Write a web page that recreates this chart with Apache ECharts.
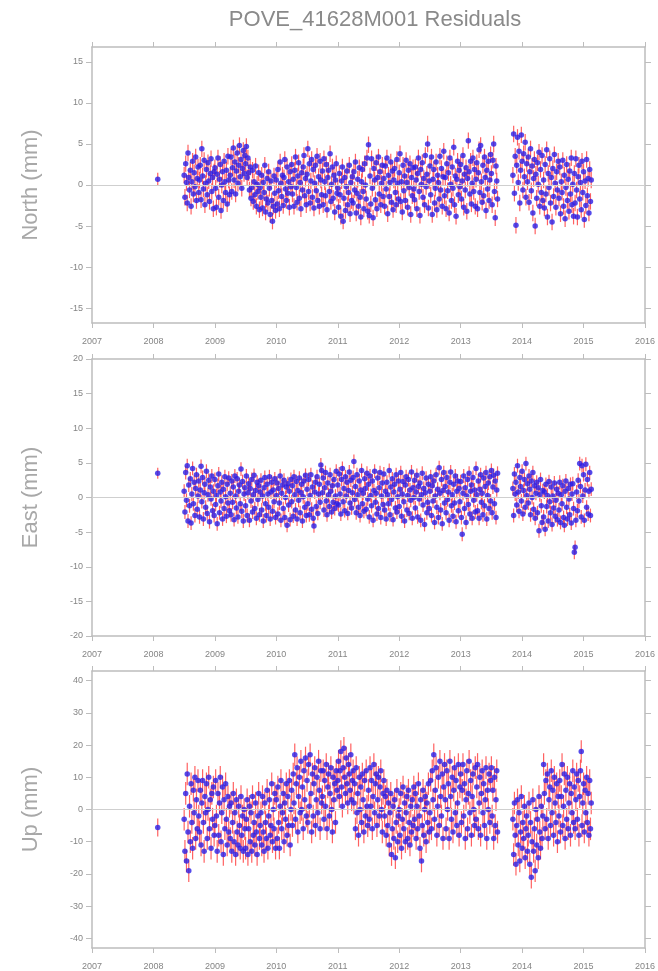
<!DOCTYPE html>
<html>
<head>
<meta charset="utf-8">
<title>POVE_41628M001 Residuals</title>
<script src="https://cdn.jsdelivr.net/npm/echarts@6/dist/echarts.min.js"></script>
<style>
  html, body { margin: 0; background: #fff; }
  #chart { width: 658px; height: 971px; }
</style>
</head>
<body>
<div id="chart"></div>
<script>
// sampling of the residual series (decimal years), one row = a quarter year
const sampleStep = 0.0125
const firstEpoch = 2008.07        // lone early observation
const segAStart = 2008.5          // main run, up to 2013.6
const segBStart = 2013.85         // after the gap, up to 2015.125

const northTicks = [-15, -10, -5, 0, 5, 10, 15]
const eastTicks = [-20, -15, -10, -5, 0, 5, 10, 15, 20]
const upTicks = [-40, -30, -20, -10, 0, 10, 20, 30, 40]

// typical 1-sigma error bar per component (mm)
const northErr = 1.0
const eastErr = 1.0
const upErr = 3.5

const northFirst = 0.7
const northA = [
  1.2, -1.5, 2.6, 0.3, -2.2, 3.9, 0.9, -0.6, 1.8, -2.6, 0.4, 2.9, -1.1, 1.5, -0.2, 3.4, -1.9, 0.8, 2.2, -0.9,
  0.6, 2.4, -1.8, 4.4, 1.1, -0.5, 3.0, -2.4, 0.2, 1.9, -1.2, 2.7, 0.5, -2.0, 1.4, 3.2, -0.8, 0.9, -2.9, 1.6,
  2.1, -0.4, -2.7, 1.3, 3.3, -1.5, 0.7, 2.5, -3.1, 0.0, 1.6, -1.9, 2.9, 0.4, -0.9, 1.8, -2.3, 3.5, 0.6, -1.2,
  1.2, 3.4, -0.8, 2.1, 4.5, 0.6, 2.8, -1.1, 1.7, 3.9, 0.2, 2.4, 4.8, 1.0, 3.1, -0.4, 2.0, 4.2, 1.4, 3.6,
  2.6, 4.7, 0.9, 3.3, 1.5, -0.6, 2.2, -1.6, -0.3, 1.8, -2.0, 0.4, -1.2, 2.3, -2.6, 0.1, -0.8, 1.5, -3.0, -0.3,
  -1.5, 1.2, -2.8, 0.3, -0.9, 2.4, -3.3, -1.7, 0.8, -2.2, 1.6, -0.4, -3.6, 0.5, -1.9, -4.4, -2.6, 1.1, -1.0, -3.1,
  0.6, -2.3, 1.9, -0.7, -2.9, 2.8, 0.2, -1.4, 1.2, -2.5, 0.9, 3.1, -0.5, -1.9, 2.2, -1.0, 0.4, -2.7, 1.6, -0.2,
  2.5, -1.1, 0.7, -2.6, 1.8, 3.4, -0.3, -2.1, 1.1, 2.7, -1.6, 0.3, -2.9, 1.5, -0.6, 2.2, 3.6, -1.3, 0.8, -2.4,
  1.3, 4.4, -0.8, 2.6, -2.2, 0.5, 3.1, -1.5, 1.9, -2.8, 0.2, 2.4, -0.7, 3.5, -1.9, 1.0, -2.6, 2.9, 0.6, -1.2,
  1.7, -2.4, 3.2, 0.4, -1.3, 2.5, -3.0, 0.9, 1.8, -0.8, 3.8, -2.0, 0.1, 2.2, -1.6, 1.2, -3.3, 0.6, 2.6, -1.0,
  -0.4, -2.7, 1.4, -1.2, -3.8, 0.5, 2.2, -4.4, -1.6, 0.9, -3.1, -0.2, 1.7, -2.4, -0.9, 2.4, -3.5, 0.3, -1.9, 1.0,
  -2.2, 1.6, -0.6, 2.8, -3.4, -1.0, 0.7, -2.6, 2.1, -1.5, -3.9, 0.4, 1.9, -0.8, -2.9, 2.6, 0.0, -1.7, 3.3, -3.2,
  4.9, -3.7, 1.1, -2.3, 3.2, -0.4, -4.0, 2.0, 0.6, -1.8, 2.7, -2.9, 0.9, 3.4, -1.1, 1.6, -2.4, 0.2, 2.4, -1.4,
  0.8, -2.6, 2.3, -0.5, 3.3, -3.5, 1.2, -1.4, 0.3, 2.8, -2.1, 1.7, -3.0, 0.6, 2.0, -0.9, -2.4, 3.1, 0.2, -1.7,
  1.5, 3.8, -2.0, 0.4, -3.3, 2.4, -0.7, 1.1, -1.9, 3.0, 0.3, -2.7, 1.8, -0.3, 2.6, -3.6, 0.9, -1.3, 2.1, -0.5,
  -1.8, 2.2, 0.6, -2.9, 1.4, 3.3, -0.8, -3.7, 1.9, 0.1, 2.7, -1.5, 0.8, -2.4, 3.6, -0.2, 1.3, 5.0, -2.8, 0.5,
  2.3, -1.2, 3.4, -3.6, 0.7, 1.9, -2.2, -0.4, 2.8, -3.0, 1.2, 0.3, -1.7, 3.5, -0.6, 2.0, -2.6, 1.0, 4.1, -1.3,
  0.9, -2.9, 2.6, -0.7, 1.5, -3.4, 3.3, 0.1, -1.9, 2.2, -0.4, 4.6, -2.4, 1.1, -3.8, 0.7, 2.9, -1.2, 1.8, -0.2,
  2.5, -1.7, 0.5, 3.6, -2.7, 1.3, -0.6, 2.1, -3.2, 0.8, 5.4, 1.6, -1.1, 2.9, -2.3, 0.2, 3.3, -0.8, 1.9, -2.6,
  0.7, 2.7, -2.9, 1.5, 4.3, -0.9, 4.8, 0.4, -2.1, 2.4, -1.3, 3.4, 0.9, -3.1, 1.8, -0.5, 2.9, -1.9, 0.6, 3.7,
  1.4, -2.4, 3.0, 5.0, -0.8, -4.0, 2.3, 0.5, -1.7
]
const northB = [
  1.2, 6.2, -1.0, 3.5, -4.9, 2.4, 5.8, 0.3, 4.1, -2.2, 1.8, 6.1, 2.9, -0.6, 3.8, 1.0, 5.2, -1.5, 2.6, 0.4,
  3.4, -2.1, 1.6, 4.4, -0.7, 2.3, -3.4, 0.8, 3.1, -5.0, 1.3, -1.6, 2.7, 0.1, 4.0, -2.6, 1.9, -0.9, 3.6, -1.9,
  0.6, -2.8, 2.5, -1.1, 4.3, -3.9, 1.4, -0.3, 3.2, -2.2, 0.9, -4.5, 2.0, -1.4, 3.7, 0.2, -2.7, 1.6, -0.6, 2.9,
  -1.6, 2.2, -3.5, 0.4, -0.9, 3.0, -2.6, 1.2, -4.1, -0.3, 2.5, -1.9, 0.7, -3.2, 1.7, -1.1, 3.3, -2.4, 0.1, -3.8,
  1.4, -2.2, 3.2, -0.6, -3.9, 1.0, 2.4, -1.7, 0.3, -3.0, 2.9, -0.9, 1.6, -4.2, 0.5, -2.5, 3.1, -1.3, 0.8, -3.4,
  1.9, -2.0, 0.6
]

const eastFirst = 3.5
const eastA = [
  0.9, -2.1, 3.6, -0.4, 4.6, -3.4, 1.8, -1.2, 2.7, -3.7, 0.5, 4.2, -0.9, 2.2, -2.6, 1.3, 3.3, -1.7, 0.2, 2.4,
  -2.8, 1.1, 4.5, -0.6, 2.9, -3.1, 0.7, 1.9, -1.4, 3.8, -2.3, 0.4, 2.5, -3.5, 1.5, -0.2, 3.1, -1.9, 0.9, -2.6,
  2.6, -1.0, 0.3, -3.8, 1.7, 3.4, -2.2, 0.8, -0.5, 2.2, -3.1, 1.2, -1.6, 3.0, 0.1, -2.7, 1.9, -0.8, 2.8, -1.9,
  0.6, -2.5, 2.4, -0.7, 1.5, -3.2, 3.1, 0.2, -1.5, 2.7, -2.8, 0.9, 1.8, -0.9, 4.1, -2.0, 2.3, -3.4, 0.5, 1.4,
  -1.2, 3.1, -2.6, 0.7, 2.0, -3.3, 1.3, -0.5, 2.6, -2.1, 0.4, 3.2, -1.6, 1.0, -3.0, 2.2, -0.3, 1.7, -2.5, 0.8,
  2.5, -1.8, 0.2, -3.4, 1.4, 2.9, -0.9, -2.6, 1.9, 0.5, -1.4, 3.0, -3.1, 0.8, 2.2, -2.0, 1.1, -0.6, 2.7, -2.9,
  0.3, 2.1, -2.4, 1.3, -0.8, 3.1, -3.3, 0.6, 1.8, -1.6, 2.5, -2.9, 0.0, 1.5, -4.0, 2.0, -1.1, 0.9, -3.2, 2.6,
  -0.6, 1.7, -2.7, 3.0, 0.4, -1.8, 2.3, -3.1, 1.0, -0.4, 2.8, -2.2, 0.7, 1.9, -3.4, 0.1, 2.4, -1.4, 3.2, -2.6,
  1.2, -0.9, 2.6, -2.5, 0.3, 3.3, -1.7, 1.5, -3.0, -4.1, 0.8, 2.2, -1.3, 3.0, -2.3, 0.5, 1.9, -0.7, 4.7, 3.9,
  0.7, 2.8, -1.8, 1.4, 3.6, -0.5, -2.5, 2.1, 0.4, -1.3, 3.3, 0.9, -2.1, 1.7, -0.7, 2.6, -1.6, 0.2, 3.8, -0.9,
  1.8, -1.1, 3.4, 0.5, -2.4, 2.6, 4.2, -0.6, 1.3, -1.9, 3.0, 0.2, 2.2, -2.3, 1.0, 3.7, -0.8, 2.5, -1.5, 0.7,
  2.9, 5.2, -0.3, 1.6, -2.2, 3.3, 0.4, -1.4, 2.4, -2.6, 1.1, 3.9, -0.9, 0.6, -2.0, 2.7, 1.3, -1.7, 3.5, -0.2,
  1.9, -2.8, 3.1, 0.3, -1.2, 2.4, -3.3, 1.0, 3.8, -0.7, 0.6, -2.4, 2.8, -1.6, 1.4, 3.6, -2.9, 0.2, 2.1, -1.0,
  3.4, -1.8, 0.9, -3.1, 2.2, 0.4, -0.9, 3.9, -2.5, 1.5, -0.3, 2.7, -3.2, 0.8, 1.9, -1.5, 3.3, -2.1, 0.1, 2.4,
  -1.3, 1.2, 3.6, -2.7, 0.5, 2.3, -0.6, -3.4, 1.8, 3.0, -1.8, 0.3, 2.6, -2.3, 1.1, -0.4, 3.7, -3.0, 1.4, 0.0,
  2.5, -1.5, 0.8, 3.2, -2.8, 1.6, -0.2, 2.1, -3.3, 0.4, 3.5, -1.1, 1.3, -3.9, 0.7, 2.8, -2.2, -0.7, 1.9, -1.6,
  0.9, 3.0, -2.6, 1.7, -0.5, 2.4, -3.6, 0.2, 3.3, -1.4, 1.2, -2.9, 4.3, 0.6, -1.8, 2.6, -3.8, 1.0, 3.6, -0.8,
  1.6, -2.2, 2.9, -0.3, 0.8, -3.3, 2.2, 3.7, -1.2, 0.4, -2.7, 1.9, -0.8, 3.1, -3.5, 0.9, 2.4, -1.9, 1.3, -0.6,
  2.3, -2.9, -5.3, 0.6, 3.1, -1.6, 1.4, -3.6, 0.2, 2.6, -1.0, 3.5, -2.4, 0.9, 1.8, -3.0, 2.9, -0.4, 1.1, -2.1,
  4.2, 0.4, -1.9, 2.4, -3.0, 1.2, 3.3, -0.7, 0.6, -2.5, 2.8, -1.2, 1.6, 3.6, -3.1, 0.3, 2.1, -1.6, 3.0, -0.5,
  3.9, -2.2, 1.5, 3.2, -0.9, 2.4, -2.9, 1.1, 3.5
]
const eastB = [
  1.3, -2.6, 3.4, 0.5, 2.2, -1.1, 4.6, 0.8, -2.0, 2.9, 1.6, -0.5, 3.8, -2.4, 1.0, 2.6, -1.4, 4.9, 0.3, 2.0,
  -0.8, 3.1, 1.2, -2.5, 2.4, 0.0, 3.6, -1.7, 1.7, -3.0, 0.6, 2.2, -2.2, 1.4, -4.8, 0.4, 2.6, -1.2, -3.6, 1.0,
  -2.8, 0.8, -4.6, 1.9, -1.3, 0.3, -3.4, 2.3, -0.6, -2.2, 1.5, -3.9, 0.2, -1.5, 2.1, -2.7, -0.4, 1.2, -3.2, 0.6,
  -1.8, 2.2, -3.6, 0.4, -0.9, 1.7, -2.9, -4.0, 0.9, 2.4, -1.4, -3.1, 1.3, -0.2, -2.5, 1.9, -3.7, 0.5, 2.0, -1.6,
  -7.9, -7.2, -3.3, 0.8, -1.9, 2.5, -0.5, 4.9, 1.6, -2.8, 4.6, 0.2, 3.3, -3.3, 1.1, 4.8, -1.4, 2.6, -2.4, 0.9,
  3.6, -2.6, 1.2
]

const upFirst = -5.6
const upA = [
  -3, -13, 5, -16, 11, -7, -19, 1, -10, 8, -4, -12, 6, -1, 10, -9, 3, -6, 9, -2,
  -7, 6, -11, 2, 9, -4, -13, 4, -1, 8, -9, 0, 10, -6, 3, -12, 5, -3, 7, -8,
  -5, 9, -2, -13, 5, -8, 2, 10, -10, -1, 7, -14, 3, -6, 8, -3, -11, 4, -7, 1,
  -9, 2, -13, -4, 5, -10, -1, -14, 3, -7, -11, 1, -5, -12, 4, -8, -2, -13, 0, -6,
  -12, -3, 3, -14, -6, 1, -10, -1, -13, 4, -8, -4, -11, 2, -7, -14, -2, 5, -9, -5,
  -1, -11, 4, -7, -13, 2, -4, -9, 6, -12, -2, 3, -8, -5, 8, -10, 0, -6, 5, -12,
  3, -9, 7, -4, -12, 1, 9, -6, -1, 5, -10, 2, -3, 8, -8, 4, -5, 9, -11, 0,
  6, -5, 11, 2, 17, -3, 8, 13, -7, 4, 10, -1, 15, 0, 7, -6, 12, 3, 16, -2,
  9, -4, 14, 1, 17, 5, -7, 11, -2, 8, 13, -5, 3, 10, -1, 15, 6, -6, 12, 2,
  4, 12, -3, 9, 1, 14, -6, 7, 11, -2, 5, 13, 0, -7, 10, 3, 8, -4, 12, 6,
  9, 15, 4, 12, 18, 7, 1, 13, 19, 10, 5, 16, 8, 2, 14, 11, 6, 17, 3, 9,
  12, 2, 8, -6, 13, -1, 5, -8, 10, 0, 7, -4, 11, 3, -7, 9, -2, 12, 1, -5,
  6, -3, 13, 1, 9, -6, 4, 14, -1, 8, 11, -5, 3, 10, -2, 7, 12, 0, -7, 5,
  9, -2, 4, -8, 6, -5, 2, -11, -1, 5, -14, -6, 1, -9, 3, -15, -4, 6, -10, -2,
  0, -8, 5, -12, -3, 7, -6, 2, -10, -1, 4, -9, 6, -4, -11, 1, -7, 3, -5, 7,
  -3, 5, -9, 1, -6, 8, -2, -12, 3, -16, -5, 6, -8, 0, 4, -10, 2, -4, 8, -7,
  -1, 9, -6, 12, 3, 17, -3, 6, 13, -8, 1, 10, -5, 15, 4, -2, 11, -9, 7, 14,
  3, -6, 12, 0, 8, -9, 15, 4, -3, 10, -7, 6, 13, -1, 9, -5, 2, 14, -8, 7,
  11, -4, 6, 14, -2, 8, -9, 3, 12, -6, 5, 15, -1, 9, -8, 4, 11, 0, -5, 13,
  -3, 7, 14, -6, 2, 10, -8, 5, 12, -1, 8, -5, 3, 13, -9, 6, 0, 11, -4, 9,
  13, -2, 6, -9, 10, -5, 3, 12, -7
]
const upB = [
  -3, -14, 2, -8, -17, -5, 3, -11, -1, -16, -7, 4, -12, -4, -9, 1, -15, -6, -2, -13,
  -8, 2, -17, -4, -21, -10, 3, -13, -6, -19, 0, -11, -3, -15, 4, -7, -12, 1, -9, -2,
  14, 5, -6, 9, -3, 11, -9, 3, 7, -5, 12, -1, 6, -8, 10, 2, -4, 8, -10, 4,
  -2, 9, -7, 4, 14, -5, 1, 11, -9, 6, -3, 10, -6, 2, 8, -8, 5, -1, 12, -4,
  7, -6, 3, 11, -3, 9, -8, 4, 12, 18, -5, 2, 8, -7, 6, -1, 10, -4, 5, -8,
  9, -6, 2
]

const fontFamily = '"Liberation Sans", Arial, sans-serif'
const axisGray = '#bdbdbd'
const labelGray = '#858585'

const panels = [
  { name: 'North (mm)', top: 47, height: 276, lim: 16.8, ticks: northTicks, first: northFirst, a: northA, b: northB, err: northErr },
  { name: 'East (mm)', top: 359, height: 277, lim: 20, ticks: eastTicks, first: eastFirst, a: eastA, b: eastB, err: eastErr },
  { name: 'Up (mm)', top: 671, height: 278, lim: 43, ticks: upTicks, first: upFirst, a: upA, b: upB, err: upErr }
]

function toPoints(start, values, err) {
  return values.map((v, i) => [+(start + i * sampleStep).toFixed(4), v, err])
}

// vertical error bar from y-err to y+err
function renderErrorBar(params, api) {
  const x = api.value(0)
  const y = api.value(1)
  const e = api.value(2)
  const top = api.coord([x, y + e])
  const bot = api.coord([x, y - e])
  return {
    type: 'line',
    shape: { x1: top[0], y1: top[1], x2: bot[0], y2: bot[1] },
    style: { stroke: '#ff4545', lineWidth: 1.2, opacity: 0.85 }
  }
}

const grid = []
const xAxis = []
const yAxis = []
const series = []

panels.forEach((p, i) => {
  grid.push({ left: 92, width: 556, top: p.top, height: p.height })

  const xBase = {
    type: 'value', gridIndex: i, min: 2007, max: 2016, interval: 1,
    axisLine: { show: true, onZero: false, lineStyle: { color: axisGray, width: 1.5 } },
    axisTick: { show: true, length: 5, lineStyle: { color: axisGray } },
    splitLine: { show: false }
  }
  xAxis.push({
    ...xBase, position: 'bottom',
    axisLabel: { color: labelGray, fontSize: 9, fontFamily, margin: 14, formatter: v => String(v) }
  })
  xAxis.push({ ...xBase, position: 'top', axisLabel: { show: false } })

  const yBase = {
    type: 'value', gridIndex: i, min: -p.lim, max: p.lim,
    axisLine: { show: true, onZero: false, lineStyle: { color: axisGray, width: 1.5 } },
    axisTick: { show: true, length: 6, customValues: p.ticks, lineStyle: { color: axisGray } },
    splitLine: { show: false }
  }
  yAxis.push({
    ...yBase, position: 'left',
    name: p.name, nameLocation: 'middle', nameGap: 50,
    nameTextStyle: { color: '#a8a8a8', fontSize: 22, fontFamily },
    axisLabel: { color: labelGray, fontSize: 9, fontFamily, margin: 9, customValues: p.ticks }
  })
  yAxis.push({ ...yBase, position: 'right', axisLabel: { show: false } })

  const data = [[firstEpoch, p.first, p.err * 0.8]]
    .concat(toPoints(segAStart, p.a, p.err))
    .concat(toPoints(segBStart, p.b, p.err))

  series.push({
    type: 'custom',
    xAxisIndex: i * 2,
    yAxisIndex: i * 2,
    renderItem: renderErrorBar,
    encode: { x: 0, y: 1 },
    data: data,
    z: 2,
    markLine: {
      silent: true,
      symbol: 'none',
      label: { show: false },
      lineStyle: { color: '#cfcfcf', width: 1, type: 'solid' },
      data: [{ yAxis: 0 }]
    }
  })
  series.push({
    type: 'scatter',
    xAxisIndex: i * 2,
    yAxisIndex: i * 2,
    symbolSize: 5.5,
    itemStyle: { color: '#2a1ee6' },
    data: data,
    z: 3
  })
})

const chart = echarts.init(document.getElementById('chart'))
chart.setOption({
  animation: false,
  backgroundColor: '#ffffff',
  title: {
    text: 'POVE_41628M001 Residuals',
    left: 370,
    textAlign: 'center',
    top: 4,
    textStyle: { color: '#8a8a8a', fontSize: 22, fontWeight: 'normal', fontFamily }
  },
  grid: grid,
  xAxis: xAxis,
  yAxis: yAxis,
  series: series
})
window.addEventListener('resize', () => chart.resize())
</script>
</body>
</html>
